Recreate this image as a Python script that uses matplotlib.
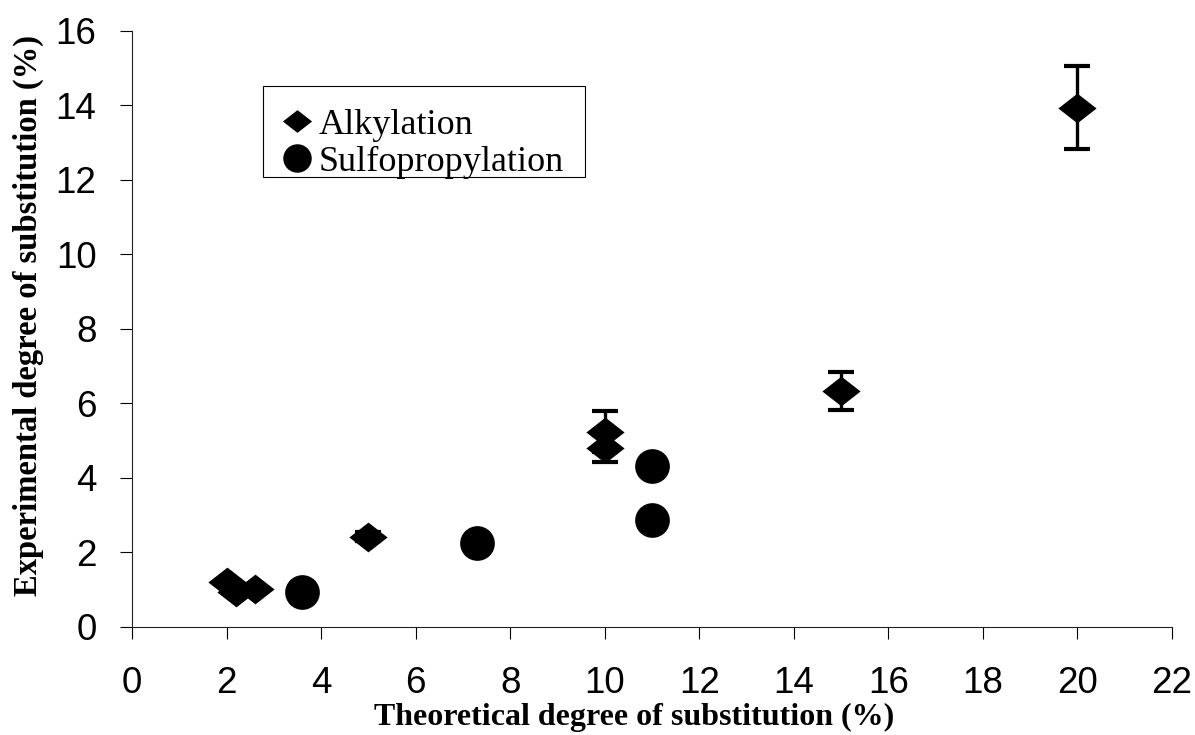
import matplotlib
matplotlib.use("Agg")
import matplotlib.pyplot as plt
from matplotlib.lines import Line2D
from matplotlib.patches import Rectangle

# Data
alk_x = [2.0, 2.2, 2.6, 5.0, 10.0, 10.0, 15.0, 20.0]
alk_y = [1.21, 0.94, 1.0, 2.42, 4.79, 5.24, 6.33, 13.94]
alk_err = [0.0, 0.0, 0.0, 0.13, 0.36, 0.55, 0.5, 1.11]
sul_x = [3.6, 7.3, 11.0, 11.0]
sul_y = [0.94, 2.24, 2.87, 4.32]
x_ticks = list(range(0, 23, 2))
y_ticks = list(range(0, 17, 2))
legend_labels = ["Alkylation", "Sulfopropylation"]

fig = plt.figure(figsize=(11.95, 7.35), dpi=100)
W, H = 1195, 735
ax = fig.add_axes([132 / W, 1 - 626.7 / H, 1040 / W, 595.7 / H])

diamond = [(-1, 0), (0, 0.78), (1, 0), (0, -0.78), (-1, 0)]

ax.errorbar(alk_x, alk_y, yerr=alk_err, fmt='none', ecolor='black',
            elinewidth=2.4, capsize=9.5, capthick=3.0, zorder=2)
ax.plot(alk_x, alk_y, ls='none', marker=diamond, markersize=27.5,
        color='black', mew=0, zorder=3)
ax.plot(sul_x, sul_y, ls='none', marker='o', markersize=25,
        color='black', mew=0, zorder=3)

ax.set_xlim(0, 22)
ax.set_ylim(0, 16)
ax.set_xticks(x_ticks)
ax.set_yticks(y_ticks)
ax.set_xticklabels([str(v) for v in x_ticks], family='Liberation Sans', fontsize=26.5)
ax.set_yticklabels([str(v) for v in y_ticks], family='Liberation Sans', fontsize=26.5)
ax.tick_params(axis='x', direction='out', length=8.5, width=0.8, pad=20)
ax.tick_params(axis='y', direction='out', length=8.5, width=0.8, pad=17)
for s in ['top', 'right']:
    ax.spines[s].set_visible(False)
for s in ['left', 'bottom']:
    ax.spines[s].set_linewidth(0.8)
    ax.spines[s].set_color('#222222')

ax.set_xlabel("Theoretical degree of substitution (%)", family='Liberation Serif',
              fontweight='bold', fontsize=23)
ax.xaxis.set_label_coords(0.483, -0.128)
ax.set_ylabel("Experimental degree of substitution (%)", family='Liberation Serif',
              fontweight='bold', fontsize=23.5)
ax.yaxis.set_label_coords(-0.085, 0.523)

handles = [
    Line2D([], [], ls='none', marker=diamond, markersize=21, color='black', mew=0),
    Line2D([], [], ls='none', marker='o', markersize=20.5, color='black', mew=0),
]
leg = fig.legend(handles, legend_labels, loc='upper left',
                 bbox_to_anchor=(279 / W, 1 - 108.5 / H), borderaxespad=0,
                 prop={'family': 'Liberation Serif', 'size': 26},
                 frameon=False,
                 handlelength=1.0, handletextpad=0.1, labelspacing=0.1,
                 borderpad=0.0)
fig.patches.append(Rectangle((263 / W, 1 - 177 / H), (585 - 263) / W, (177 - 86) / H,
                             transform=fig.transFigure, fill=False,
                             edgecolor='black', linewidth=0.8))

fig.savefig("out.png", dpi=100)
